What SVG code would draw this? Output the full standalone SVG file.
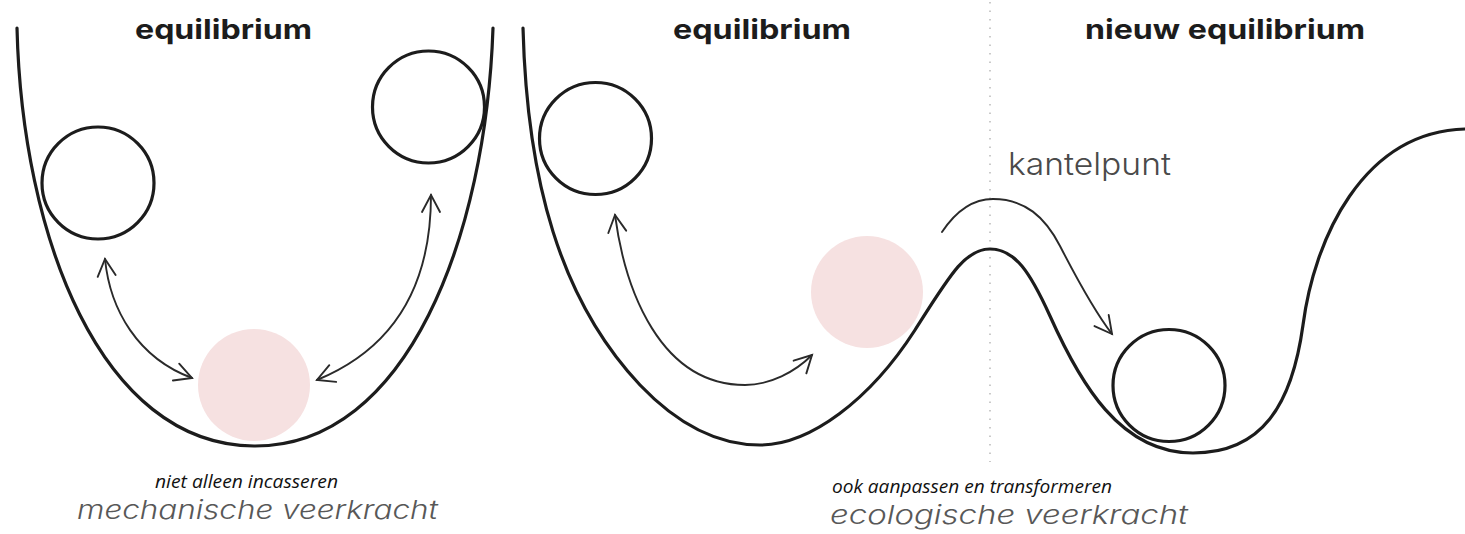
<svg xmlns="http://www.w3.org/2000/svg" width="1465" height="534" viewBox="0 0 1465 534">
<style>
.bg{fill:#ffffff}
.curve{fill:none;stroke:#1c1c1c;stroke-width:3.2;stroke-linecap:round;stroke-linejoin:round}
.ball{fill:none;stroke:#1c1c1c;stroke-width:3.2}
.pink{fill:#f6e1e1;stroke:none}
.arrow{fill:none;stroke:#2a2a2a;stroke-width:1.9;stroke-linecap:round;marker-start:url(#ah);marker-end:url(#ah)}
.arrow1{fill:none;stroke:#2a2a2a;stroke-width:1.9;stroke-linecap:round;marker-end:url(#ah)}
.dots{fill:none;stroke:#bdbdbd;stroke-width:1.6;stroke-dasharray:1.6 6.9;stroke-linecap:butt}
.title{font-family:Inter,"Liberation Sans",sans-serif;font-weight:700;font-size:27px;fill:#1c1c1c}
.big{font-family:Inter,"Liberation Sans",sans-serif;font-weight:300;font-style:italic;font-size:26px;fill:#585858}
.kant{font-family:Inter,"Liberation Sans",sans-serif;font-weight:300;font-size:31px;fill:#4a4a4a}
.small{font-family:"Open Sans","Liberation Sans",sans-serif;font-style:italic;font-size:17.5px;fill:#111111}
</style>
<defs>
<marker id="ah" markerUnits="userSpaceOnUse" markerWidth="40" markerHeight="40" refX="0" refY="0" orient="auto-start-reverse" overflow="visible">
<path d="M-17,-9 L0,0 L-17,9" fill="none" stroke="#2a2a2a" stroke-width="1.9" stroke-linecap="round" stroke-linejoin="miter"/>
</marker>
</defs>
<rect class="bg" x="0" y="0" width="1465" height="534"/>

<g id="divider">
<line class="dots" x1="990" y1="2" x2="990" y2="462"/>
</g>

<g id="landscape-mechanisch">
<path class="curve" d="M17,28 C22,235 100,445 254,446 C408,447 486,235 493,28"/>
</g>

<g id="landscape-ecologisch">
<path class="curve" d="M523,28 C527,180 560,300 640,385 C680,427 720,445 760,445 C810,445 870,400 915,330 C950,275 965,249 990,249 C1015,249 1030,272 1050,316 C1080,383 1120,453 1193,453 C1262,453 1292,405 1303,325 C1314,240 1362,132 1465,129"/>
</g>

<g id="ball-m-left"><circle class="ball" cx="98" cy="183" r="56"/></g>
<g id="ball-m-right"><circle class="ball" cx="428.5" cy="107" r="56"/></g>
<g id="ball-m-pink"><circle class="pink" cx="254" cy="385" r="56"/></g>

<g id="ball-e-left"><circle class="ball" cx="595.5" cy="138.5" r="56"/></g>
<g id="ball-e-pink"><circle class="pink" cx="867" cy="292" r="56"/></g>
<g id="ball-e-new"><circle class="ball" cx="1169" cy="385.5" r="56"/></g>

<g id="connectors">
<path class="arrow" d="M105,259 C110,310 138,358 192,378"/>
<path class="arrow" d="M431,195 C431,290 390,350 317,380"/>
<path class="arrow" d="M615,215 C625,290 660,385 745,385 C770,385 795,372 812,355"/>
<path class="arrow1" d="M942,232 C958,208 975,199 993,199 C1025,199 1045,217 1060,246 C1078,281 1095,312 1112,334"/>
</g>

<g id="labels">
<text class="title" x="135" y="39" textLength="177" lengthAdjust="spacingAndGlyphs">equilibrium</text>
<text class="title" x="673" y="39" textLength="178" lengthAdjust="spacingAndGlyphs">equilibrium</text>
<text class="title" x="1085" y="39" textLength="280" lengthAdjust="spacingAndGlyphs">nieuw equilibrium</text>
<text class="kant" x="1008" y="175" textLength="163" lengthAdjust="spacingAndGlyphs">kantelpunt</text>
<text class="small" x="155" y="488" textLength="183" lengthAdjust="spacingAndGlyphs">niet alleen incasseren</text>
<text class="big" x="77" y="519" textLength="361" lengthAdjust="spacingAndGlyphs">mechanische veerkracht</text>
<text class="small" x="832" y="493" textLength="280" lengthAdjust="spacingAndGlyphs">ook aanpassen en transformeren</text>
<text class="big" x="830" y="524" textLength="358" lengthAdjust="spacingAndGlyphs">ecologische veerkracht</text>
</g>
</svg>
